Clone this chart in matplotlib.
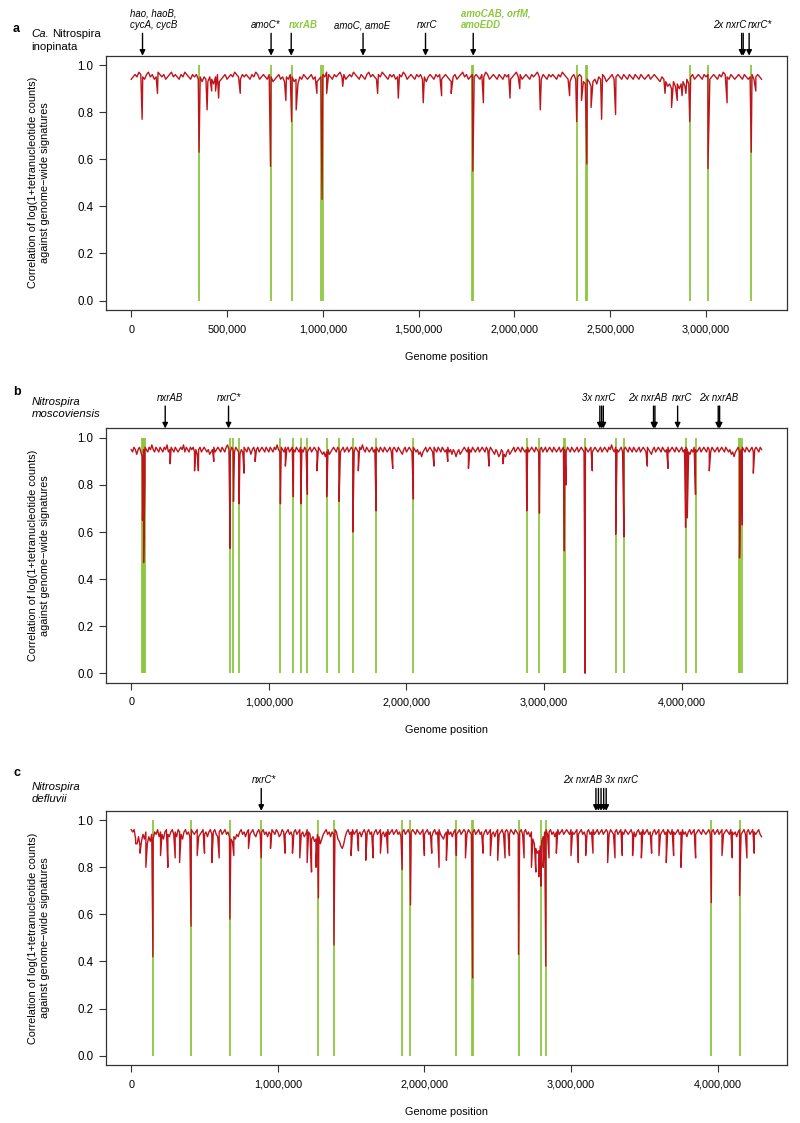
import numpy as np
import matplotlib
matplotlib.use('Agg')
import matplotlib.pyplot as plt
from matplotlib.ticker import FuncFormatter

plt.rcParams['font.family'] = ['Liberation Sans', 'DejaVu Sans']

RED = '#c0141c'
GREEN = '#8dc63f'

# window correlations (x100), ~10 kb windows along each genome

# ---- panel a: Ca. Nitrospira inopinata ----
a_len = 3.29e6
a_base = [94, 95, 96, 95, 97, 96, 95, 94, 96, 97, 95, 96, 94, 95, 97, 96, 95, 96, 94, 95,
          96, 97, 95, 96, 95, 94, 96, 95, 97, 96, 95, 94, 96, 95, 96, 94, 95, 93, 95, 94,
          93, 95, 94, 92, 95, 96, 93, 94, 95, 96, 94, 95, 96, 95, 97, 96, 95, 94, 96, 95,
          96, 95, 94, 96, 95, 97, 96, 94, 95, 96, 95, 94, 96, 95, 93, 94, 95, 96, 94, 95,
          93, 95, 94, 96, 95, 93, 94, 92, 95, 94, 96, 95, 94, 95, 96, 94, 95, 93, 94, 95,
          96, 95, 97, 96, 95, 94, 96, 95, 96, 97, 95, 96, 94, 95, 96, 95, 97, 96, 95, 94,
          96, 95, 94, 96, 97, 95, 96, 95, 94, 96, 95, 97, 96, 95, 94, 96, 95, 96, 94, 95,
          96, 95, 97, 96, 94, 95, 96, 95, 94, 96, 95, 96, 94, 95, 93, 95, 96, 95, 94, 96,
          95, 96, 94, 95, 96, 95, 94, 93, 95, 96, 94, 95, 96, 97, 95, 96, 94, 95, 96, 95,
          96, 95, 94, 96, 95, 97, 96, 94, 95, 96, 95, 94, 96, 95, 94, 96, 95, 96, 94, 95,
          96, 97, 95, 96, 94, 95, 96, 95, 94, 96, 95, 96, 97, 95, 94, 96, 95, 94, 96, 95,
          96, 95, 94, 96, 95, 97, 96, 95, 94, 93, 95, 96, 94, 95, 96, 95, 93, 92, 94, 93,
          91, 93, 94, 92, 95, 94, 96, 95, 93, 94, 95, 96, 94, 95, 96, 95, 94, 96, 95, 94,
          96, 95, 94, 96, 95, 94, 96, 95, 94, 95, 96, 94, 95, 96, 95, 94, 93, 95, 94, 93,
          91, 92, 90, 93, 91, 92, 90, 92, 93, 91, 94, 92, 95, 96, 94, 95, 96, 95, 94, 96,
          95, 96, 94, 95, 96, 95, 94, 96, 95, 97, 96, 95, 94, 96, 95, 94, 95, 96, 95, 94,
          96, 95, 94, 95, 96, 94, 95, 96, 95, 94]
a_dip_pos = [0.057, 0.137, 0.354, 0.396, 0.42, 0.44, 0.456, 0.569, 0.727, 0.807, 0.837,
             0.861, 0.969, 0.996, 1.02, 1.104, 1.286, 1.394, 1.524, 1.62, 1.67, 1.783,
             1.838, 1.977, 2.028, 2.135, 2.288, 2.325, 2.35, 2.378, 2.40, 2.455, 2.528,
             2.786, 2.82, 2.85, 2.875, 2.895, 2.915, 3.01, 3.11, 3.236, 3.26]
a_dip_val = [77, 88, 63, 81, 89, 89, 86, 88, 57, 85, 76,
             81, 88, 43, 88, 91, 88, 86, 84, 87, 88, 55,
             84, 86, 90, 81, 87, 76, 85, 58, 82, 77, 79,
             88, 82, 85, 87, 88, 76, 56, 84, 63, 89]
a_green = [0.354, 0.727, 0.837, 0.993, 0.999, 1.780, 1.786, 2.325, 2.375, 2.381, 2.915, 3.01, 3.236]
a_genes = [0.059, 0.73, 0.835, 1.21, 1.536, 1.785, 3.186, 3.194, 3.225]
a_labels = [('hao, haoB,\ncycA, cycB', 'k'), ('amoC*', 'k'), ('nxrAB', 'g'), ('amoC, amoE', 'k'),
            ('nxrC', 'k'), ('amoCAB, orfM,\namoEDD', 'g'), ('2x nxrC', 'k'), ('nxrC*', 'k')]
a_label_x = [(-0.004, 'left'), (0.702, 'center'), (0.896, 'center'), (1.207, 'center'),
             (1.546, 'center'), (1.72, 'left'), (3.123, 'center'), (3.283, 'center')]

# ---- panel b: Nitrospira moscoviensis ----
b_len = 4.58e6
b_base = [95, 94, 96, 95, 93, 95, 96, 94, 92, 95, 96, 95, 94, 96, 95, 97, 95, 94, 96, 95,
          94, 96, 95, 94, 96, 95, 97, 94, 95, 96, 95, 94, 96, 95, 94, 95, 96, 95, 97, 94,
          96, 95, 94, 96, 95, 96, 94, 95, 93, 95, 96, 94, 95, 96, 95, 94, 95, 93, 94, 95,
          96, 94, 95, 96, 95, 94, 96, 95, 94, 96, 97, 95, 94, 96, 95, 94, 96, 95, 94, 93,
          95, 94, 96, 95, 94, 96, 95, 93, 95, 96, 94, 95, 96, 94, 95, 96, 95, 94, 96, 95,
          94, 96, 95, 94, 96, 95, 97, 95, 94, 96, 95, 94, 96, 95, 96, 94, 95, 96, 95, 94,
          96, 95, 94, 96, 95, 94, 96, 95, 94, 95, 96, 94, 95, 96, 95, 94, 96, 95, 94, 93,
          94, 92, 94, 95, 93, 94, 95, 96, 95, 94, 96, 95, 94, 95, 96, 94, 95, 96, 94, 95,
          96, 95, 94, 96, 95, 94, 96, 95, 97, 95, 94, 96, 95, 94, 95, 96, 94, 95, 96, 95,
          94, 96, 95, 94, 96, 95, 94, 95, 96, 94, 95, 96, 95, 94, 96, 95, 94, 93, 95, 96,
          94, 95, 96, 95, 94, 96, 95, 94, 95, 93, 94, 92, 94, 95, 96, 94, 95, 96, 95, 94,
          96, 95, 94, 96, 95, 94, 96, 95, 94, 95, 96, 94, 95, 93, 95, 94, 92, 94, 95, 93,
          94, 95, 96, 95, 94, 96, 95, 94, 96, 95, 94, 95, 96, 94, 95, 96, 95, 94, 96, 95,
          94, 96, 95, 94, 93, 95, 94, 92, 93, 95, 94, 93, 92, 94, 95, 93, 94, 95, 96, 94,
          95, 96, 95, 94, 96, 95, 94, 95, 96, 94, 95, 96, 95, 94, 96, 95, 94, 95, 96, 94,
          95, 96, 94, 95, 96, 95, 94, 96, 95, 94, 95, 96, 94, 95, 96, 95, 94, 96, 95, 94,
          96, 95, 94, 95, 96, 94, 95, 96, 95, 94, 96, 95, 94, 95, 96, 94, 95, 96, 95, 94,
          95, 96, 94, 95, 96, 95, 94, 96, 95, 97, 95, 94, 96, 95, 94, 95, 96, 94, 95, 96,
          95, 94, 96, 95, 94, 96, 95, 94, 95, 96, 94, 95, 96, 95, 94, 96, 95, 94, 93, 95,
          96, 94, 95, 96, 95, 94, 96, 95, 94, 95, 96, 94, 95, 96, 95, 94, 96, 95, 94, 95,
          96, 94, 95, 96, 95, 94, 93, 95, 94, 96, 95, 94, 95, 96, 94, 95, 96, 95, 94, 96,
          95, 94, 96, 95, 94, 95, 96, 94, 95, 96, 95, 94, 96, 95, 94, 95, 93, 94, 92, 94,
          95, 96, 94, 95, 96, 95, 94, 96, 95, 94, 95, 96, 94, 95, 96, 95, 94, 96, 95]
b_dip_pos = [0.04, 0.082, 0.09, 0.1, 0.283, 0.46, 0.488, 0.6, 0.719, 0.743, 0.784, 0.82,
             0.9, 1.084, 1.12, 1.178, 1.232, 1.28, 1.35, 1.42, 1.51, 1.61, 1.65, 1.779,
             1.9, 2.05, 2.2, 2.3, 2.45, 2.6, 2.7, 2.874, 2.966, 3.147, 3.16, 3.298, 3.35,
             3.52, 3.58, 3.75, 3.9, 4.028, 4.04, 4.1, 4.2, 4.42, 4.44, 4.52]
b_dip_val = [93, 65, 47, 82, 89, 86, 86, 90, 53, 73, 72, 85,
             90, 72, 88, 75, 72, 76, 86, 75, 73, 60, 86, 69,
             87, 74, 88, 90, 87, 88, 89, 69, 68, 52, 80, 0, 86,
             59, 58, 88, 87, 62, 66, 76, 86, 49, 63, 85]
b_green = [0.079, 0.085, 0.095, 0.101, 0.719, 0.743, 0.784, 1.084, 1.178, 1.232, 1.28,
           1.42, 1.51, 1.61, 1.779, 2.05, 2.874, 2.966, 3.144, 3.15, 3.298, 3.52, 3.58,
           4.028, 4.1, 4.415, 4.425, 4.435]
b_genes = [0.247, 0.707, 3.405, 3.418, 3.43, 3.795, 3.805, 3.97, 4.265, 4.275]
b_labels = [('nxrAB', 'k'), ('nxrC*', 'k'), ('3x nxrC', 'k'), ('2x nxrAB', 'k'),
            ('nxrC', 'k'), ('2x nxrAB', 'k')]
b_label_x = [0.283, 0.712, 3.40, 3.75, 4.005, 4.27]

# ---- panel c: Nitrospira defluvii ----
c_len = 4.30e6
c_base = [96, 95, 96, 92, 90, 93, 89, 91, 94, 92, 95, 90, 93, 91, 94, 92, 95, 94, 96, 93,
          95, 94, 92, 95, 96, 94, 93, 95, 96, 94, 95, 93, 96, 95, 94, 92, 95, 96, 94, 95,
          93, 96, 95, 94, 95, 96, 93, 94, 95, 96, 94, 95, 93, 95, 96, 94, 95, 96, 94, 93,
          95, 96, 94, 95, 96, 94, 95, 93, 92, 91, 93, 92, 94, 93, 95, 96, 94, 95, 93, 95,
          96, 94, 95, 96, 94, 93, 95, 96, 94, 95, 96, 94, 95, 93, 95, 94, 96, 95, 94, 96,
          95, 93, 94, 96, 95, 94, 95, 96, 94, 95, 93, 95, 96, 94, 95, 96, 94, 95, 93, 94,
          96, 95, 94, 92, 93, 91, 92, 94, 93, 90, 92, 94, 95, 96, 94, 95, 93, 95, 94, 96,
          95, 92, 91, 89, 88, 90, 93, 95, 96, 94, 95, 96, 94, 95, 96, 94, 95, 93, 95, 96,
          94, 95, 96, 94, 95, 93, 95, 96, 94, 95, 96, 94, 95, 93, 95, 96, 94, 95, 96, 94,
          95, 96, 94, 95, 93, 95, 96, 94, 95, 96, 94, 95, 96, 95, 94, 96, 95, 94, 95, 96,
          94, 95, 96, 94, 95, 93, 95, 96, 94, 95, 96, 94, 93, 92, 94, 95, 96, 94, 95, 93,
          95, 96, 94, 95, 96, 94, 95, 96, 95, 94, 96, 95, 94, 95, 96, 94, 95, 96, 94, 95,
          93, 95, 96, 94, 95, 96, 94, 95, 93, 95, 96, 94, 95, 96, 94, 95, 96, 95, 94, 96,
          95, 94, 96, 95, 94, 95, 96, 94, 95, 96, 94, 95, 93, 95, 92, 90, 88, 86, 87, 89,
          91, 93, 95, 96, 94, 95, 96, 94, 95, 93, 95, 96, 94, 95, 96, 94, 95, 96, 95, 94,
          96, 95, 94, 95, 96, 94, 95, 96, 94, 95, 93, 95, 96, 94, 95, 96, 94, 95, 96, 94,
          95, 96, 94, 95, 96, 95, 94, 96, 95, 94, 95, 96, 94, 95, 96, 95, 94, 96, 95, 94,
          95, 96, 94, 95, 93, 95, 96, 94, 95, 96, 94, 95, 96, 94, 95, 93, 95, 96, 94, 95,
          96, 94, 95, 96, 94, 95, 96, 95, 94, 96, 95, 94, 95, 96, 94, 95, 96, 94, 95, 93,
          95, 96, 94, 95, 96, 94, 95, 96, 95, 94, 96, 95, 94, 95, 96, 94, 95, 96, 94, 95,
          96, 94, 95, 96, 94, 95, 96, 95, 94, 96, 95, 94, 95, 93, 95, 96, 94, 95, 96, 94,
          95, 96, 94, 95, 96, 95, 94, 95, 96, 94, 93]
c_dip_pos = [0.03, 0.06, 0.1, 0.148, 0.2, 0.25, 0.3, 0.33, 0.408, 0.45, 0.5, 0.55, 0.6,
             0.673, 0.7, 0.8, 0.887, 0.95, 1.05, 1.1, 1.15, 1.2, 1.23, 1.26, 1.277, 1.383,
             1.5, 1.55, 1.6, 1.65, 1.7, 1.75, 1.848, 1.905, 2.0, 2.05, 2.1, 2.15, 2.218,
             2.28, 2.329, 2.4, 2.45, 2.5, 2.55, 2.58, 2.642, 2.68, 2.73, 2.76, 2.78, 2.794,
             2.81, 2.828, 2.85, 2.9, 3.0, 3.05, 3.1, 3.15, 3.25, 3.3, 3.35, 3.42, 3.48,
             3.55, 3.6, 3.65, 3.7, 3.75, 3.85, 3.957, 4.03, 4.1, 4.15, 4.2, 4.25]
c_dip_val = [90, 86, 80, 42, 85, 80, 84, 82, 55, 85, 86, 82, 84,
             58, 85, 88, 84, 88, 86, 86, 84, 82, 78, 80, 67, 47,
             85, 87, 83, 84, 86, 86, 79, 64, 85, 86, 80, 83, 85,
             84, 33, 86, 85, 83, 84, 85, 43, 84, 80, 78, 76, 72,
             80, 38, 84, 86, 85, 82, 85, 86, 82, 84, 85, 85, 84,
             86, 85, 82, 85, 80, 84, 65, 85, 84, 68, 84, 86]
c_green = [0.148, 0.408, 0.673, 0.887, 1.277, 1.383, 1.848, 1.905, 2.218, 2.326, 2.332,
           2.642, 2.794, 2.828, 3.957, 4.15]
c_genes = [0.887, 3.17, 3.187, 3.205, 3.223, 3.24]
c_labels = [('nxrC*', 'k'), ('2x nxrAB 3x nxrC', 'k')]
c_label_x = [0.903, 3.20]


def series(glen, base, dpos, dval):
    x = np.linspace(0, glen, len(base))
    y = np.array(base) / 100.0
    x = np.concatenate([x, np.array(dpos) * 1e6])
    y = np.concatenate([y, np.array(dval) / 100.0])
    o = np.argsort(x)
    return x[o], y[o]


fig = plt.figure(figsize=(8, 11.23), dpi=100)
boxes = [[0.1325, 0.724, 0.851, 0.2264],
         [0.1325, 0.3921, 0.851, 0.2264],
         [0.1325, 0.0516, 0.851, 0.2264]]

panels = [
    ('a', a_len, a_base, a_dip_pos, a_dip_val, a_green, a_genes, 500000),
    ('b', b_len, b_base, b_dip_pos, b_dip_val, b_green, b_genes, 1000000),
    ('c', c_len, c_base, c_dip_pos, c_dip_val, c_green, c_genes, 1000000),
]

fs = 7.8
gfs = 6.9
axes = []
for box, (tag, glen, base, dpos, dval, green, genes, step) in zip(boxes, panels):
    ax = fig.add_axes(box)
    axes.append(ax)
    ax.vlines(np.array(green) * 1e6, 0, 1, color=GREEN, lw=1.3, zorder=2)
    x, y = series(glen, base, dpos, dval)
    ax.plot(x, y, color=RED, lw=1.0, zorder=3)
    pad = 0.04 * glen
    ax.set_xlim(-pad, glen + pad)
    ax.set_ylim(-0.04, 1.04)
    ax.set_xticks(np.arange(0, glen, step))
    ax.xaxis.set_major_formatter(FuncFormatter(lambda v, p: '{:,.0f}'.format(v)))
    ax.set_yticks(np.arange(0, 1.01, 0.2))
    ax.set_yticklabels(['%.1f' % v for v in np.arange(0, 1.01, 0.2)])
    ax.tick_params(direction='out', length=5, width=0.8, labelsize=fs, color='#333333')
    ax.tick_params(axis='x', pad=5.5)
    ax.tick_params(axis='y', pad=4, labelsize=8.3)
    for s in ax.spines.values():
        s.set_linewidth(0.9)
        s.set_color('#333333')
    ax.text(0.5, -0.185, 'Genome position', transform=ax.transAxes, ha='center',
            va='center', fontsize=fs)
    ax.text(-0.0984, 0.5, 'Correlation of log(1+tetranucleotide counts)\nagainst genome\u2212wide signatures',
            transform=ax.transAxes, rotation=90, ha='center', va='center', fontsize=fs,
            multialignment='center', linespacing=1.15)
    for g in genes:
        ax.annotate('', xy=(g * 1e6, 1.0), xycoords=('data', 'axes fraction'),
                    xytext=(g * 1e6, 1.088), textcoords=('data', 'axes fraction'),
                    arrowprops=dict(arrowstyle='-|>', color='black', lw=1.0,
                                    mutation_scale=8, shrinkA=0, shrinkB=0))

# gene labels
ax = axes[0]
for (txt, col), (lx, ha) in zip(a_labels, a_label_x):
    if col == 'g':
        ax.text(lx * 1e6, 1.1, txt, transform=ax.get_xaxis_transform(), ha=ha, va='bottom',
                fontsize=gfs, style='italic', weight='bold', color=GREEN, linespacing=1.2)
    else:
        ax.text(lx * 1e6, 1.1, txt, transform=ax.get_xaxis_transform(), ha=ha, va='bottom',
                fontsize=gfs, style='italic', linespacing=1.2)
for ax, labels, lxs in [(axes[1], b_labels, b_label_x), (axes[2], c_labels, c_label_x)]:
    for (txt, col), lx in zip(labels, lxs):
        ax.text(lx * 1e6, 1.1, txt, transform=ax.get_xaxis_transform(), ha='center',
                va='bottom', fontsize=gfs, style='italic')

# panel tags and species names
H = 1123.0
for tag, ty in [('a', 29), ('b', 392), ('c', 773)]:
    fig.text(13 / 800, 1 - ty / H, tag, fontsize=9, weight='bold', va='center')
fig.text(31.7 / 800, 1 - 34 / H, 'Ca.', fontsize=8.2, style='italic', va='center')
fig.text(51.7 / 800, 1 - 34 / H, 'Nitrospira', fontsize=8.2, va='center')
fig.text(31.7 / 800, 1 - 46.5 / H, 'inopinata', fontsize=8.2, va='center')
fig.text(31.7 / 800, 1 - 408 / H, 'Nitrospira\nmoscoviensis', fontsize=8.2, style='italic',
         va='center', linespacing=1.15)
fig.text(31.7 / 800, 1 - 793 / H, 'Nitrospira\ndefluvii', fontsize=8.2, style='italic',
         va='center', linespacing=1.15)

fig.savefig('out.png', dpi=100)
